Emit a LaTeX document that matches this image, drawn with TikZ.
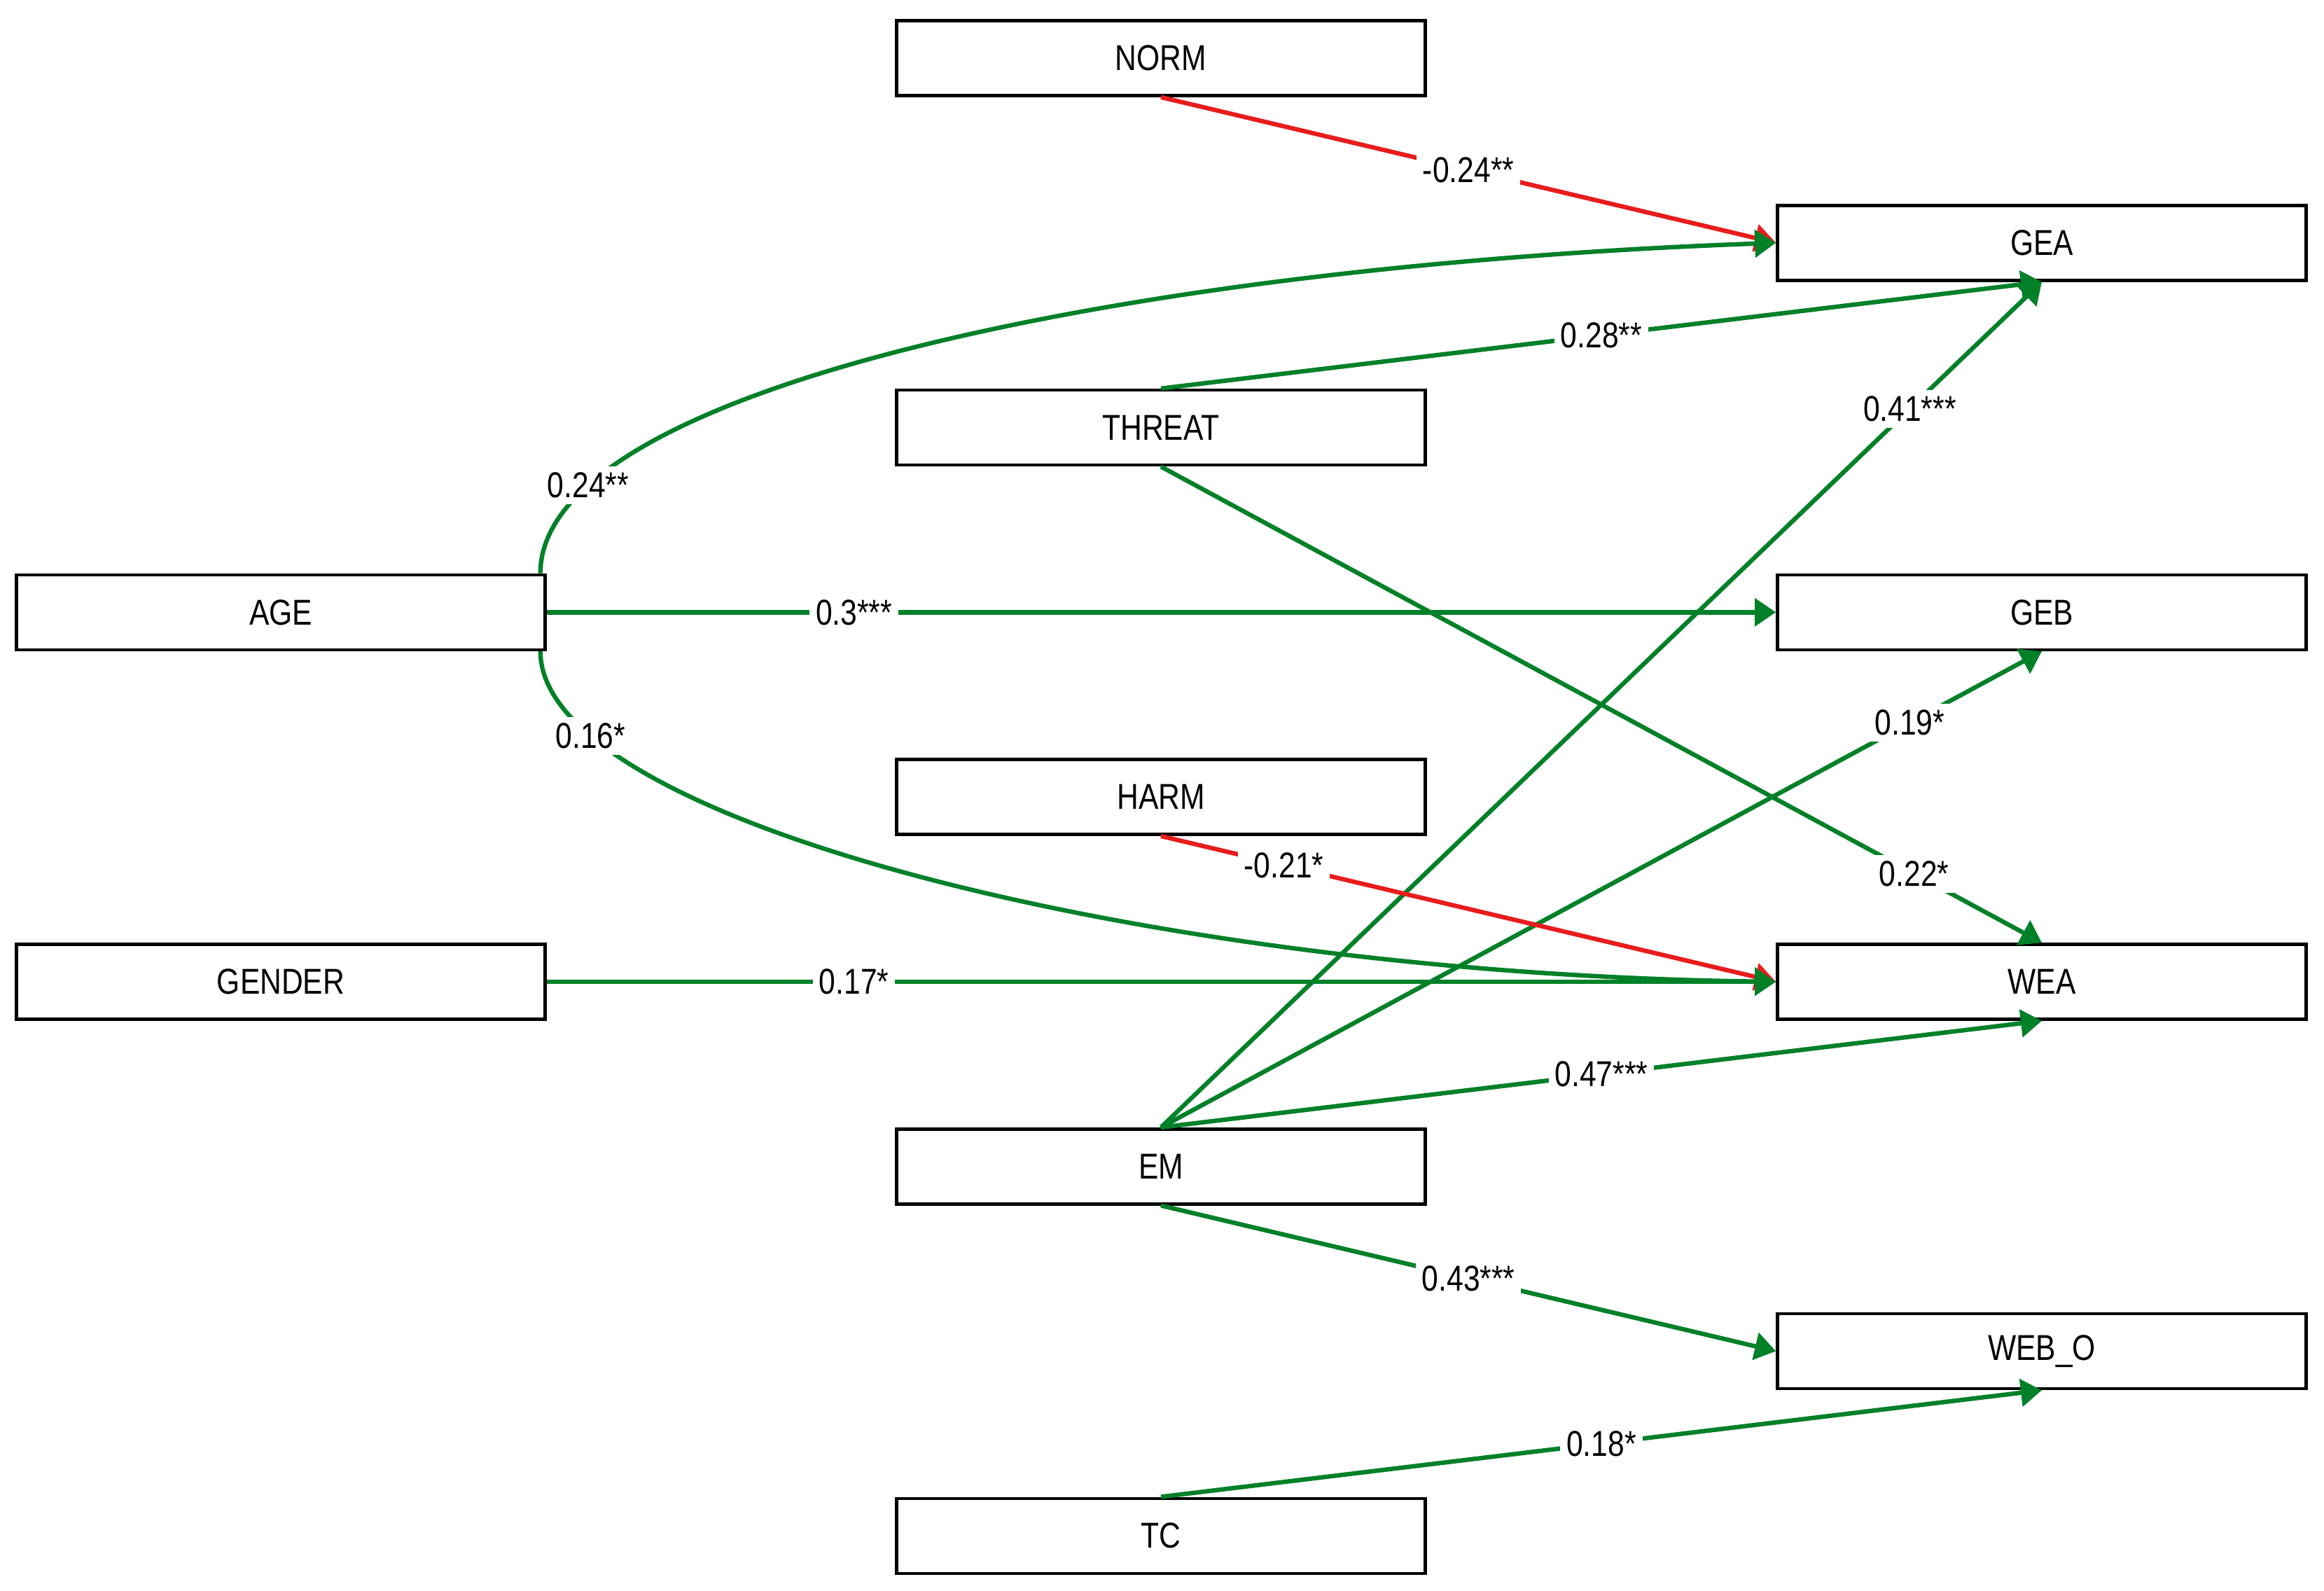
\documentclass[tikz,border=0pt]{standalone}
\usepackage{fontspec}
\setmainfont{Liberation Sans}[FakeStretch=0.83]
\usepackage{tikz}
\usetikzlibrary{arrows.meta,positioning,calc}
\usepackage{xcolor}
\definecolor{pathgreen}{RGB}{0,128,40}
\definecolor{pathred}{RGB}{232,28,28}
\newcommand{\semfont}{\fontsize{14.6}{17}\selectfont}
\tikzset{
  var/.style={draw=black, line width=1.3pt, minimum width=7.55cm, minimum height=1.07cm, inner sep=0pt, align=center, font=\semfont},
  posedge/.style={draw=pathgreen, -{Triangle[length=3mm,width=3.9mm]}, line width=1.8pt},
  negedge/.style={draw=pathred, -{Triangle[length=3mm,width=3.9mm]}, line width=1.8pt},
  coef/.style={fill=white, text=black, inner sep=2.5pt, font=\semfont}
}
\begin{document}
\begin{tikzpicture}[node distance=4.16cm]
\useasboundingbox (-16.58,0.83) rectangle (16.61,-21.89);
% middle column
\node[var] (NORM) {NORM};
\node[var, below=of NORM] (THREAT) {THREAT};
\node[var, below=of THREAT] (HARM) {HARM};
\node[var, below=of HARM] (EM) {EM};
\node[var, below=of EM] (TC) {TC};
% outcomes
\node[var] (GEA) at ($(NORM)!0.5!(THREAT)+(12.58,0)$) {GEA};
\node[var, below=of GEA] (GEB) {GEB};
\node[var, below=of GEB] (WEA) {WEA};
\node[var, below=of WEA] (WEBO) {WEB\_O};
% covariates
\node[var] (AGE) at ($(GEB)+(-25.15,0)$) {AGE};
\node[var, below=of AGE] (GENDER) {GENDER};
% paths
\draw[negedge] (NORM.south) -- node[coef] {-0.24**} (GEA.west);
\draw[posedge] ([xshift=-0.09cm]AGE.north east) .. controls +(0,2.61) and +(-9.38,-0.34) .. node[coef, pos=0.17] {0.24**} (GEA.west);
\draw[posedge] (THREAT.north) -- node[coef] {0.28**} (GEA.south);
\draw[posedge] (EM.north) -- node[coef, pos=0.85] {0.41***} (GEA.south);
\draw[posedge] (AGE.east) -- node[coef, pos=0.25] {0.3***} (GEB.west);
\draw[posedge] (EM.north) -- node[coef, pos=0.85] {0.19*} (GEB.south);
\draw[posedge] (THREAT.south) -- node[coef, pos=0.855] {0.22*} (WEA.north);
\draw[posedge] ([xshift=-0.09cm]AGE.south east) .. controls +(0,-2.43) and +(-8.88,0.11) .. node[coef, pos=0.17] {0.16*} (WEA.west);
\draw[negedge] (HARM.south) -- node[coef, pos=0.2] {-0.21*} (WEA.west);
\draw[posedge] (GENDER.east) -- node[coef, pos=0.25] {0.17*} (WEA.west);
\draw[posedge] (EM.north) -- node[coef] {0.47***} (WEA.south);
\draw[posedge] (EM.south) -- node[coef] {0.43***} (WEBO.west);
\draw[posedge] (TC.north) -- node[coef] {0.18*} (WEBO.south);
\end{tikzpicture}
\end{document}
